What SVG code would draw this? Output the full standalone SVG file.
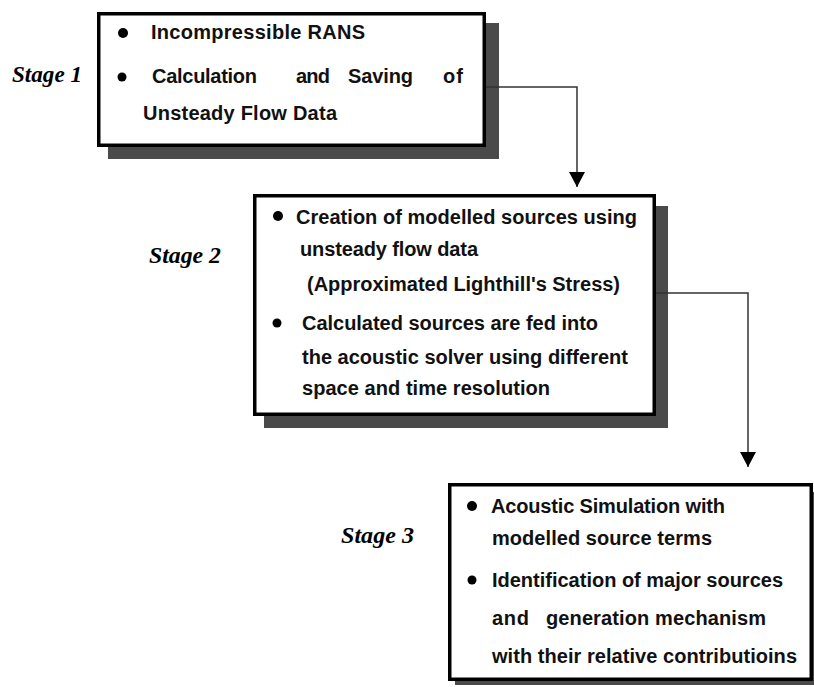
<svg xmlns="http://www.w3.org/2000/svg" width="814" height="687" viewBox="0 0 814 687">
  <style>
    .shadow { fill: #4a4a4a; }
    .box { fill: #ffffff; stroke: #000000; stroke-width: 3.5; }
    .txt { font-family: "Liberation Sans", Arial, sans-serif; font-weight: bold; font-size: 20px; fill: #111111; }
    .stage { font-family: "Liberation Serif", "Times New Roman", serif; font-weight: bold; font-style: italic; font-size: 23px; fill: #000000; }
    .bullet { fill: #000000; }
    .wire { fill: none; stroke: #333333; stroke-width: 1.5; }
  </style>
  <defs>
    <marker id="arrowhead" markerUnits="userSpaceOnUse" markerWidth="16" markerHeight="16" refX="15" refY="8" orient="auto">
      <path d="M0,0 L15,8 L0,16 Z" fill="#000000"/>
    </marker>
  </defs>

  <rect width="814" height="687" fill="#ffffff"/>

  <!-- stage labels -->
  <g id="labels">
    <text class="stage" x="12" y="82" textLength="70" lengthAdjust="spacingAndGlyphs">Stage 1</text>
    <text class="stage" x="149" y="263" textLength="72" lengthAdjust="spacingAndGlyphs">Stage 2</text>
    <text class="stage" x="341" y="543" textLength="73" lengthAdjust="spacingAndGlyphs">Stage 3</text>
  </g>

  <!-- stage 1: flow solution -->
  <g id="stage1">
    <rect class="shadow" x="108" y="23" width="391" height="136"/>
    <rect class="box" x="98.75" y="13.75" width="385.5" height="131.5"/>
    <circle class="bullet" cx="123" cy="33" r="5"/>
    <text class="txt" x="151" y="39" textLength="214" lengthAdjust="spacing">Incompressible RANS</text>
    <circle class="bullet" cx="122" cy="77" r="4.5"/>
    <text class="txt" y="83">
      <tspan x="152" textLength="105" lengthAdjust="spacing">Calculation</tspan>
      <tspan x="296" textLength="34" lengthAdjust="spacing">and</tspan>
      <tspan x="348" textLength="65" lengthAdjust="spacing">Saving</tspan>
      <tspan x="443" textLength="20" lengthAdjust="spacing">of</tspan>
    </text>
    <text class="txt" x="143" y="120" textLength="194" lengthAdjust="spacing">Unsteady Flow Data</text>
  </g>

  <!-- stage 2: source modelling -->
  <g id="stage2">
    <rect class="shadow" x="264" y="206" width="404" height="222"/>
    <rect class="box" x="254.75" y="195.75" width="399.5" height="218.5"/>
    <circle class="bullet" cx="278" cy="216" r="5"/>
    <text class="txt" x="296" y="224" textLength="341" lengthAdjust="spacing">Creation of modelled sources using</text>
    <text class="txt" x="300" y="256" textLength="178" lengthAdjust="spacing">unsteady flow data</text>
    <text class="txt" x="307" y="291" textLength="313" lengthAdjust="spacing">(Approximated Lighthill's Stress)</text>
    <circle class="bullet" cx="277" cy="323" r="4.5"/>
    <text class="txt" x="302" y="330" textLength="296" lengthAdjust="spacing">Calculated sources are fed into</text>
    <text class="txt" x="302" y="364" textLength="326" lengthAdjust="spacing">the acoustic solver using different</text>
    <text class="txt" x="302" y="395" textLength="248" lengthAdjust="spacing">space and time resolution</text>
  </g>

  <!-- stage 3: acoustic simulation -->
  <g id="stage3">
    <rect class="shadow" x="455" y="492" width="359" height="193"/>
    <rect class="box" x="449.75" y="484.75" width="361.5" height="194.5"/>
    <circle class="bullet" cx="472" cy="506" r="5"/>
    <text class="txt" x="491" y="513" textLength="234" lengthAdjust="spacing">Acoustic Simulation with</text>
    <text class="txt" x="492" y="545" textLength="220" lengthAdjust="spacing">modelled source terms</text>
    <circle class="bullet" cx="472" cy="580" r="4.5"/>
    <text class="txt" x="492" y="587" textLength="291" lengthAdjust="spacing">Identification of major sources</text>
    <text class="txt" y="625">
      <tspan x="492" textLength="37" lengthAdjust="spacing">and</tspan>
      <tspan x="546" textLength="220" lengthAdjust="spacing">generation mechanism</tspan>
    </text>
    <text class="txt" x="492" y="663" textLength="305" lengthAdjust="spacing">with their relative contributioins</text>
  </g>

  <!-- connectors -->
  <g id="connectors">
    <path class="wire" d="M486,87 H577 V187" marker-end="url(#arrowhead)"/>
    <path class="wire" d="M656,293 H748 V467" marker-end="url(#arrowhead)"/>
  </g>
</svg>
